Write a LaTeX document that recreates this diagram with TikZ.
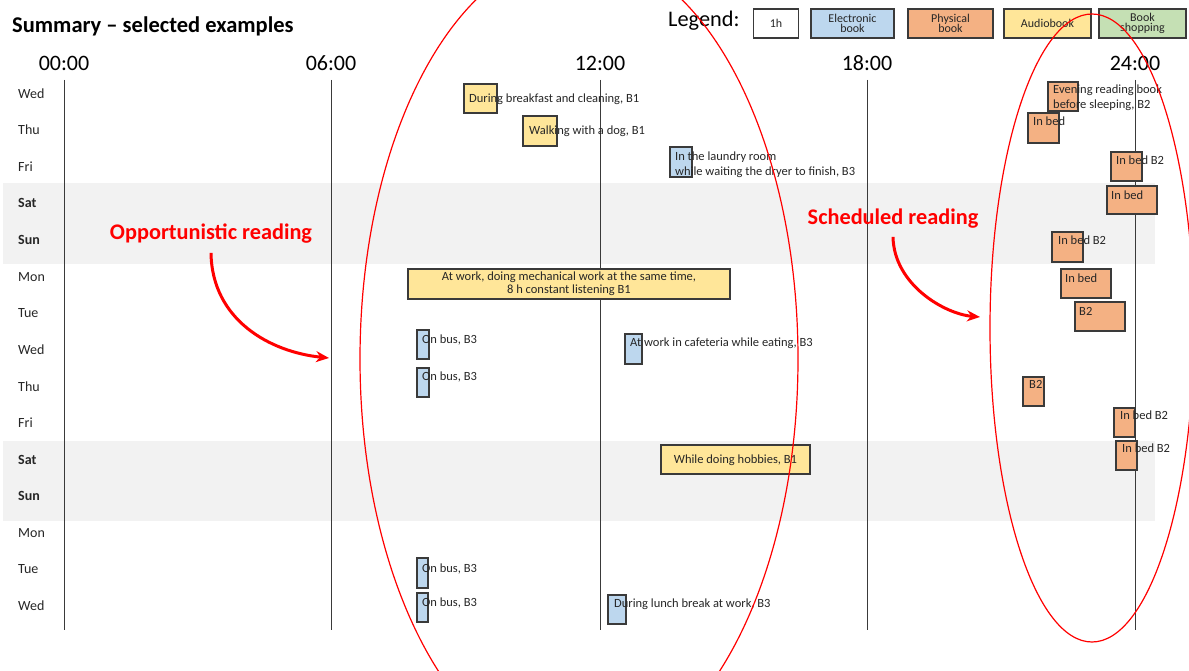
\documentclass[tikz,border=0pt]{standalone}
\usepackage{fontspec}
\setmainfont{Carlito}
\usetikzlibrary{arrows.meta}
\definecolor{ebk}{HTML}{BDD7EE}
\definecolor{phys}{HTML}{F4B183}
\definecolor{aud}{HTML}{FFE699}
\definecolor{shop}{HTML}{C5E0B4}
\definecolor{band}{HTML}{F2F2F2}
\definecolor{edge}{HTML}{3A3A3A}
\definecolor{ink}{HTML}{262626}
\definecolor{hl}{HTML}{FF0000}
\newcommand\tbox[6]{\node[#1, minimum width={(#4-#2)*1pt}, minimum height={(#5-#3)*1pt}] (#6) at ({(#2+#4)/2},{(#3+#5)/2}) {};}
\begin{document}
\begin{tikzpicture}[x=1pt,y=-1pt,
  bx/.style={draw=edge, line width=1.3pt, inner sep=0pt, outer sep=0pt},
  ebox/.style={bx, fill=ebk},
  pbox/.style={bx, fill=phys},
  abox/.style={bx, fill=aud},
  sbox/.style={bx, fill=shop},
  wbox/.style={bx, fill=white},
  txt/.style={inner sep=0pt, text=ink, font=\fontsize{12.5}{15}\selectfont, anchor=west},
  txtml/.style={txt, anchor=north west, align=left},
  day/.style={inner sep=0pt, text=ink, font=\fontsize{14}{16}\selectfont, anchor=west},
  bday/.style={day, font=\fontsize{14}{16}\selectfont\bfseries},
  hour/.style={inner sep=0pt, text=black, font=\fontsize{22}{24}\selectfont},
  grid/.style={draw=edge, line width=0.9pt},
  legt/.style={text=ink, font=\fontsize{12}{12}\selectfont, align=center, inner sep=0pt},
  redtxt/.style={text=hl, font=\fontsize{22.3}{24}\selectfont\bfseries, inner sep=0pt},
  ring/.style={draw=hl, line width=1.2pt},
  redarr/.style={draw=hl, line width=3pt, -{Stealth[length=13pt,width=11pt]}}
]
\path[use as bounding box] (0,0) rectangle (1189,671);
\clip (0,0) rectangle (1189,671);
\fill[white] (0,0) rectangle (1189,671);

% weekend bands
\fill[band] (3,183) rectangle (1155,264);
\fill[band] (3,441) rectangle (1155,521);

% title and legend
\node[inner sep=0pt, anchor=west, text=black, font=\fontsize{22.5}{24}\selectfont\bfseries] (title) at (12,26) {Summary – selected examples};
\node[inner sep=0pt, anchor=west, text=black, font=\fontsize{22.3}{24}\selectfont] (legend) at (668,21) {Legend:};
\node[wbox, minimum width=45pt, minimum height=29pt] (lg1) at (776,23.5) {};
\node[legt] (lg1t) at (lg1) {1h};
\node[ebox, minimum width=83pt, minimum height=29pt] (lg2) at (852.5,23.5) {};
\node[legt] (lg2t) at (lg2) {Electronic\\[-2pt]book};
\node[pbox, minimum width=85pt, minimum height=29pt] (lg3) at (950.5,23.5) {};
\node[legt] (lg3t) at (lg3) {Physical\\[-2pt]book};
\node[abox, minimum width=87pt, minimum height=29pt] (lg4) at (1047.5,23.5) {};
\node[legt] (lg4t) at (lg4) {Audiobook};
\node[sbox, minimum width=87pt, minimum height=29pt] (lg5) at (1142.5,23.5) {};
\node[legt] (lg5t) at (lg5) {Book\\[-2pt]shopping};

% hour labels and grid lines
\foreach \x/\t/\n in {64/00:00/h0, 331/06:00/h6, 600/12:00/h12, 867/18:00/h18, 1135/24:00/h24}{
  \node[hour] (\n) at (\x,63) {\t};
  \draw[grid] (\x,80) -- (\x,630);
}

% day labels
\node[day] (d1) at (18,94) {Wed};
\node[day] (d2) at (18,130) {Thu};
\node[day] (d3) at (18,167) {Fri};
\node[bday] (d4) at (18,203) {Sat};
\node[bday] (d5) at (18,240) {Sun};
\node[day] (d6) at (18,277) {Mon};
\node[day] (d7) at (18,313) {Tue};
\node[day] (d8) at (18,350) {Wed};
\node[day] (d9) at (18,387) {Thu};
\node[day] (d10) at (18,423) {Fri};
\node[bday] (d11) at (18,460) {Sat};
\node[bday] (d12) at (18,496) {Sun};
\node[day] (d13) at (18,533) {Mon};
\node[day] (d14) at (18,569) {Tue};
\node[day] (d15) at (18,606) {Wed};

% reading boxes
\tbox{abox}{464}{84}{497}{113}{b1}
\node[txt] (t1) at (469,99.5) {During breakfast and cleaning, B1};
\tbox{abox}{523}{116}{557}{146}{b2}
\node[txt] (t2) at (529,131.5) {Walking with a dog, B1};
\tbox{ebox}{670}{147}{692}{177}{b3}
\node[txtml] (t3) at (675,152) {In the laundry room\\while waiting the dryer to finish, B3};
\tbox{pbox}{1048}{82}{1078}{111}{b4}
\node[txtml] (t4) at (1053,84.5) {Evening reading book\\before sleeping, B2};
\tbox{pbox}{1028}{113}{1059}{143}{b5}
\node[txt] (t5) at (1033,121.5) {In bed};
\tbox{pbox}{1111}{152}{1142}{181}{b6}
\node[txt] (t6) at (1116,160.5) {In bed B2};
\tbox{pbox}{1107}{186}{1157}{214}{b7}
\node[txt] (t7) at (1111,195.5) {In bed};
\tbox{pbox}{1052}{232}{1083}{262}{b8}
\node[txt] (t8) at (1058,240.5) {In bed B2};
\tbox{abox}{408}{269}{730}{299}{b9}
\node[txt, anchor=center, align=center, font=\fontsize{12.5}{13}\selectfont] (t9) at (569,284) {At work, doing mechanical work at the same time,\\8 h constant listening B1};
\tbox{pbox}{1061}{269}{1111}{298}{b10}
\node[txt] (t10) at (1065,278.5) {In bed};
\tbox{pbox}{1075}{302}{1125}{331}{b11}
\node[txt] (t11) at (1079,311.5) {B2};
\tbox{ebox}{417}{330}{429}{359}{b12}
\node[txt] (t12) at (422,339.5) {On bus, B3};
\tbox{ebox}{625}{334}{642}{364}{b13}
\node[txt] (t13) at (630,343.5) {At work in cafeteria while eating, B3};
\tbox{ebox}{417}{368}{429}{397}{b14}
\node[txt] (t14) at (422,376.5) {On bus, B3};
\tbox{pbox}{1023}{377}{1044}{406}{b15}
\node[txt] (t15) at (1029,384.5) {B2};
\tbox{pbox}{1114}{408}{1135}{437}{b16}
\node[txt] (t16) at (1120,415.5) {In bed B2};
\tbox{pbox}{1116}{441}{1137}{470}{b17}
\node[txt] (t17) at (1122,448.5) {In bed B2};
\tbox{abox}{661}{445}{810}{474}{b18}
\node[txt, anchor=center] (t18) at (735.5,460) {While doing hobbies, B1};
\tbox{ebox}{417}{558}{428}{588}{b19}
\node[txt] (t19) at (422,568.5) {On bus, B3};
\tbox{ebox}{417}{593}{428}{622}{b20}
\node[txt] (t20) at (422,602.5) {On bus, B3};
\tbox{ebox}{608}{595}{626}{624}{b21}
\node[txt] (t21) at (614,604.5) {During lunch break at work, B3};

% highlight ellipses
\draw[ring] (579,359) ellipse [x radius=219pt, y radius=407pt];
\draw[ring] (1092,328) ellipse [x radius=102pt, y radius=314pt];

% annotations
\node[redtxt] (opp) at (211,234) {Opportunistic reading};
\coordinate (oppend) at (329,358);
\draw[redarr] ([yshift=-9pt]opp.south) .. controls (212,320) and (270,352) .. (oppend);
\node[redtxt] (sch) at (893,219) {Scheduled reading};
\coordinate (schend) at (980,317);
\draw[redarr] ([yshift=-8pt]sch.south) .. controls (894,285) and (945,314) .. (schend);
\end{tikzpicture}
\end{document}
